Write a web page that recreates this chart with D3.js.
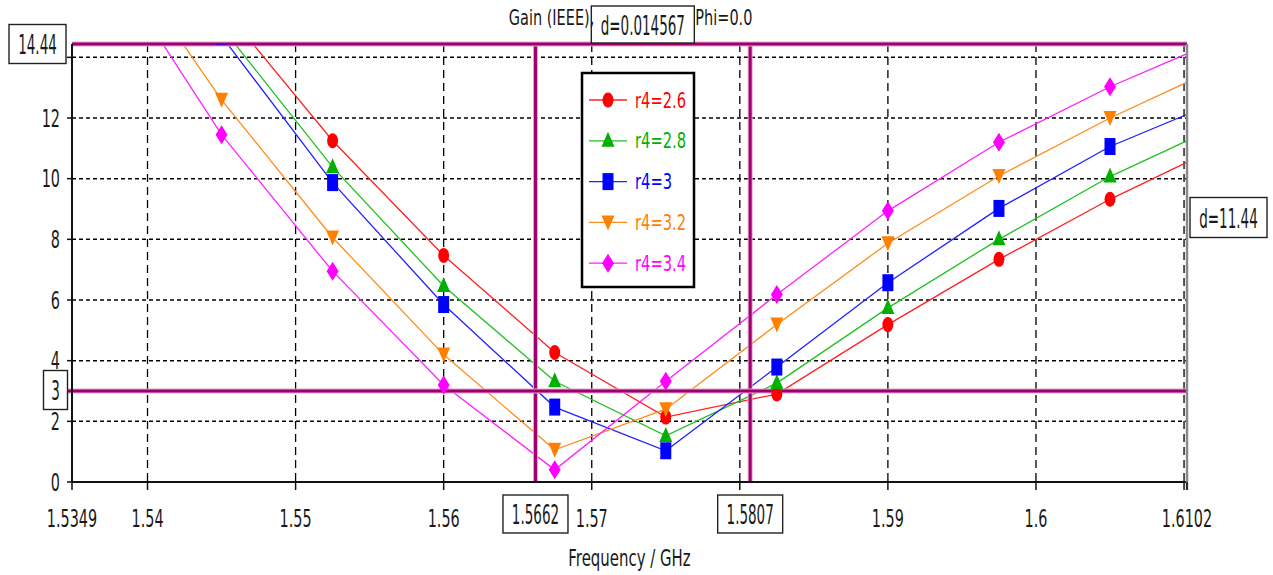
<!DOCTYPE html>
<html><head><meta charset="utf-8">
<script src="https://cdn.jsdelivr.net/npm/d3@7"></script>
<style>
html,body{margin:0;padding:0;background:#fff;}
svg{display:block;}
text{font-family:"DejaVu Sans",sans-serif;}
</style></head>
<body><svg id="c" width="1273" height="575"></svg>
<script>
// ---- data ----
const freqs = [1.5375, 1.545, 1.5525, 1.56, 1.5675, 1.575, 1.5825, 1.59, 1.5975, 1.605, 1.6125];
const gainR26 = [20.5, 15.7, 11.25, 7.47, 4.27, 2.14, 2.9, 5.19, 7.34, 9.32, 11.08];
const gainR28 = [19.8, 15.0, 10.38, 6.46, 3.32, 1.52, 3.26, 5.74, 8.0, 10.07, 11.77];
const gainR30 = [19.5, 14.7, 9.87, 5.85, 2.47, 1.03, 3.79, 6.57, 9.02, 11.06, 12.59];
const gainR32 = [17.9, 12.6, 8.06, 4.2, 1.06, 2.4, 5.19, 7.87, 10.09, 12.0, 13.7];
const gainR34 = [17.1, 11.45, 6.95, 3.2, 0.4, 3.32, 6.18, 8.94, 11.2, 13.03, 14.6];
const seriesNames = ["r4=2.6", "r4=2.8", "r4=3", "r4=3.2", "r4=3.4"];
const xTicks = [1.5349, 1.54, 1.55, 1.56, 1.57, 1.58, 1.59, 1.6, 1.61, 1.6102];
const xTickLabels = ["1.5349", "1.54", "1.55", "1.56", "1.57", "", "1.59", "1.6", "", "1.6102"];
const yTicks = [0, 2, 4, 6, 8, 10, 12, 14];
const yTickLabels = ["0", "2", "4", "6", "8", "10", "12", ""];
const xDomain = [1.5349, 1.6102];
const yDomain = [0, 14.44];
const markerXs = [1.5662, 1.5807];
const markerYs = [14.44, 3];
const markerXLabels = ["1.5662", "1.5807"];
const markerYLabels = ["14.44", "3"];
const deltaXLabel = "d=0.014567";
const deltaYLabel = "d=11.44";
const titleLeft = "Gain (IEEE),";
const titleRight = "Phi=0.0";
const xAxisTitle = "Frequency / GHz";

// ---- styles ----
const colors = ["#ff0000", "#00b000", "#0000ff", "#ff8000", "#ff00ff"];
const lineColors = ["#ff2020", "#20c020", "#2020ff", "#ff8c1a", "#ff20ff"];
const shapes = ["circle", "triUp", "square", "triDown", "diamond"];
const markColor = "#a0006e";

const svg = d3.select("#c");
const L = 72, R = 1187, T = 44, B = 482;
const x = d3.scaleLinear().domain(xDomain).range([L, R]);
const y = d3.scaleLinear().domain(yDomain).range([B, T]);

function txt(g, s, tx, ty, size, sx, anchor, fill) {
  return g.append("text").attr("transform", `translate(${tx},${ty}) scale(${sx},1)`)
    .attr("text-anchor", anchor || "start").attr("font-size", size).attr("fill", fill || "#1a1a1a").text(s);
}
function marker(g, shape, cx, cy, col) {
  if (shape === "circle") g.append("ellipse").attr("cx", cx).attr("cy", cy).attr("rx", 5.5).attr("ry", 7.5).attr("fill", col);
  else if (shape === "square") g.append("rect").attr("x", cx - 5.5).attr("y", cy - 8.5).attr("width", 11).attr("height", 17).attr("fill", col);
  else if (shape === "triUp") g.append("path").attr("d", `M${cx},${cy - 9}L${cx + 6.5},${cy + 6}L${cx - 6.5},${cy + 6}Z`).attr("fill", col);
  else if (shape === "triDown") g.append("path").attr("d", `M${cx - 6.5},${cy - 7}L${cx + 6.5},${cy - 7}L${cx},${cy + 8}Z`).attr("fill", col);
  else if (shape === "diamond") g.append("path").attr("d", `M${cx},${cy - 9.5}L${cx + 6},${cy}L${cx},${cy + 9.5}L${cx - 6},${cy}Z`).attr("fill", col);
}

// grid
const grid = svg.append("g");
yTicks.filter(v => v > 0).forEach(v => {
  grid.append("line").attr("x1", L).attr("x2", R).attr("y1", y(v)).attr("y2", y(v))
    .attr("stroke", "#000").attr("stroke-width", 1.5).attr("stroke-dasharray", "4,3");
});
xTicks.filter(v => v > xDomain[0] && v < xDomain[1]).forEach(v => {
  grid.append("line").attr("x1", x(v)).attr("x2", x(v)).attr("y1", T).attr("y2", B)
    .attr("stroke", "#000").attr("stroke-width", 1.3).attr("stroke-dasharray", "8,5");
});

// clip
svg.append("defs").append("clipPath").attr("id", "clip").append("rect")
  .attr("x", L).attr("y", T).attr("width", R - L).attr("height", B - T + 12);

const allSeries = [gainR26, gainR28, gainR30, gainR32, gainR34];
const line = d3.line().x((d, i) => x(freqs[i])).y(d => y(d));
const plot = svg.append("g").attr("clip-path", "url(#clip)");
allSeries.forEach((s, k) => {
  plot.append("path").attr("d", line(s)).attr("fill", "none").attr("stroke", lineColors[k]).attr("stroke-width", 1.3);
});

// marker lines
const ml = svg.append("g");
function mline(x1, y1, x2, y2) {
  ml.append("line").attr("x1", x1).attr("y1", y1).attr("x2", x2).attr("y2", y2).attr("stroke", "#e6a6d2").attr("stroke-width", 5);
  ml.append("line").attr("x1", x1).attr("y1", y1).attr("x2", x2).attr("y2", y2).attr("stroke", markColor).attr("stroke-width", 3);
}
markerXs.forEach(v => mline(x(v), T, x(v), B));
mline(L, y(markerYs[0]), R, y(markerYs[0]));
mline(67, y(markerYs[1]), R, y(markerYs[1]));

// markers
const mk = svg.append("g").attr("clip-path", "url(#clip)");
allSeries.forEach((s, k) => {
  s.forEach((v, i) => marker(mk, shapes[k], x(freqs[i]), y(v), colors[k]));
});

// axes
const ax = svg.append("g");
ax.append("line").attr("x1", L).attr("x2", R + 1).attr("y1", B).attr("y2", B).attr("stroke", "#111").attr("stroke-width", 2);
ax.append("line").attr("x1", L).attr("x2", L).attr("y1", T).attr("y2", B).attr("stroke", "#111").attr("stroke-width", 2);
ax.append("line").attr("x1", R).attr("x2", R).attr("y1", T).attr("y2", B + 8).attr("stroke", "#8a8a8a").attr("stroke-width", 2.5);
xTicks.forEach((v, i) => {
  ax.append("line").attr("x1", x(v)).attr("x2", x(v)).attr("y1", B).attr("y2", B + 8).attr("stroke", "#111").attr("stroke-width", 1.5);
  if (xTickLabels[i]) txt(ax, xTickLabels[i], x(v), 527, 24, 0.6, "middle");
});
yTicks.forEach((v, i) => {
  ax.append("line").attr("x1", L - 5).attr("x2", L).attr("y1", y(v)).attr("y2", y(v)).attr("stroke", "#111").attr("stroke-width", 1.5);
  if (yTickLabels[i]) txt(ax, yTickLabels[i], 60, y(v) + 8.5, 24, 0.6, "end");
});
txt(svg, xAxisTitle, (L + R) / 2, 566, 23, 0.65, "middle");

// legend
const lg = svg.append("g");
lg.append("rect").attr("x", 582).attr("y", 73).attr("width", 112).attr("height", 214)
  .attr("fill", "#fff").attr("stroke", "#000").attr("stroke-width", 2.5);
seriesNames.forEach((n, k) => {
  const cy = 100 + k * 40.8;
  lg.append("line").attr("x1", 589).attr("x2", 627).attr("y1", cy).attr("y2", cy).attr("stroke", lineColors[k]).attr("stroke-width", 1.3);
  marker(lg, shapes[k], 608, cy, colors[k]);
  txt(lg, n, 635, cy + 7.5, 21, 0.7, "start", colors[k]);
});

// boxed labels
function box(cx, cy, w, h, s) {
  const g = svg.append("g");
  g.append("rect").attr("x", cx - w / 2).attr("y", cy - h / 2).attr("width", w).attr("height", h)
    .attr("fill", "#fff").attr("stroke", "#222").attr("stroke-width", 1.4);
  txt(g, s, cx, cy + 10, 27, 0.5, "middle");
}
box(37.5, y(markerYs[0]), 57, 39, markerYLabels[0]);
box(55.5, y(markerYs[1]) - 1, 24, 39, markerYLabels[1]);
markerXs.forEach((v, i) => box(x(v), 514, 65, 38, markerXLabels[i]));
const dxCenter = (x(markerXs[0]) + x(markerXs[1])) / 2, dxW = 103;
box(dxCenter, 24.5, dxW, 37, deltaXLabel);
box(1228.5, (y(markerYs[0]) + y(markerYs[1])) / 2, 77, 40, deltaYLabel);

// title split around the delta box
txt(svg, titleLeft, dxCenter - dxW / 2 + 3, 25, 21, 0.69, "end");
txt(svg, titleRight, dxCenter + dxW / 2 + 1, 25, 21, 0.69, "start");
</script></body></html>
